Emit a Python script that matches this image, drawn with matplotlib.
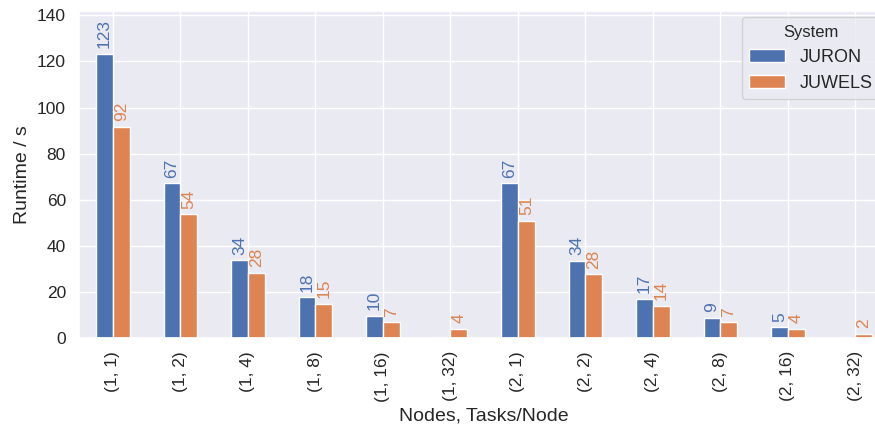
import numpy as np
import pandas as pd
import matplotlib
matplotlib.use("Agg")
import matplotlib.pyplot as plt
import seaborn as sns

# runtimes in seconds
nodes = [1, 1, 1, 1, 1, 1, 2, 2, 2, 2, 2, 2]
tasks = [1, 2, 4, 8, 16, 32, 1, 2, 4, 8, 16, 32]
juron = [123.4, 67.2, 33.8, 17.6, 9.7, np.nan, 67.1, 33.6, 17.1, 8.8, 4.7, np.nan]
juwels = [91.6, 53.6, 28.2, 14.8, 6.9, 3.9, 50.8, 27.6, 13.9, 6.9, 4.0, 1.9]

sns.set_theme(style="darkgrid")
plt.rcParams['font.family'] = ['Liberation Sans', 'DejaVu Sans']

idx = pd.MultiIndex.from_arrays([nodes, tasks], names=["Nodes", "Tasks/Node"])
df = pd.DataFrame({"JURON": juron, "JUWELS": juwels}, index=idx)
df.columns.name = "System"

fig = plt.figure(figsize=(8.75, 4.28), dpi=100)
ax = fig.add_axes([0.0905, 0.2103, 0.9257, 0.764])
colors = sns.color_palette("deep")[:2]
df.plot.bar(ax=ax, color=colors, edgecolor="white", linewidth=1)

# value labels above each bar
for cont, col in zip(ax.containers, colors):
    for rect in cont:
        h = rect.get_height()
        if np.isnan(h) or h == 0:
            continue
        ax.annotate("{:.0f}".format(h), (rect.get_x() + rect.get_width() / 2, h),
                    xytext=(0, 4), textcoords="offset points",
                    rotation=90, ha="center", va="bottom", color=col, fontsize=12.5)

ax.set_ylim(0, np.nanmax(juron) * 1.15)
ax.set_xlabel("Nodes, Tasks/Node", fontsize=14)
ax.set_ylabel("Runtime / s", fontsize=14)
ax.tick_params(axis="both", labelsize=12.5)
leg = ax.legend(title="System", fontsize=13, title_fontsize=12,
                loc="upper right", bbox_to_anchor=(0.9995, 1.008))

fig.savefig("out.png", dpi=100)
